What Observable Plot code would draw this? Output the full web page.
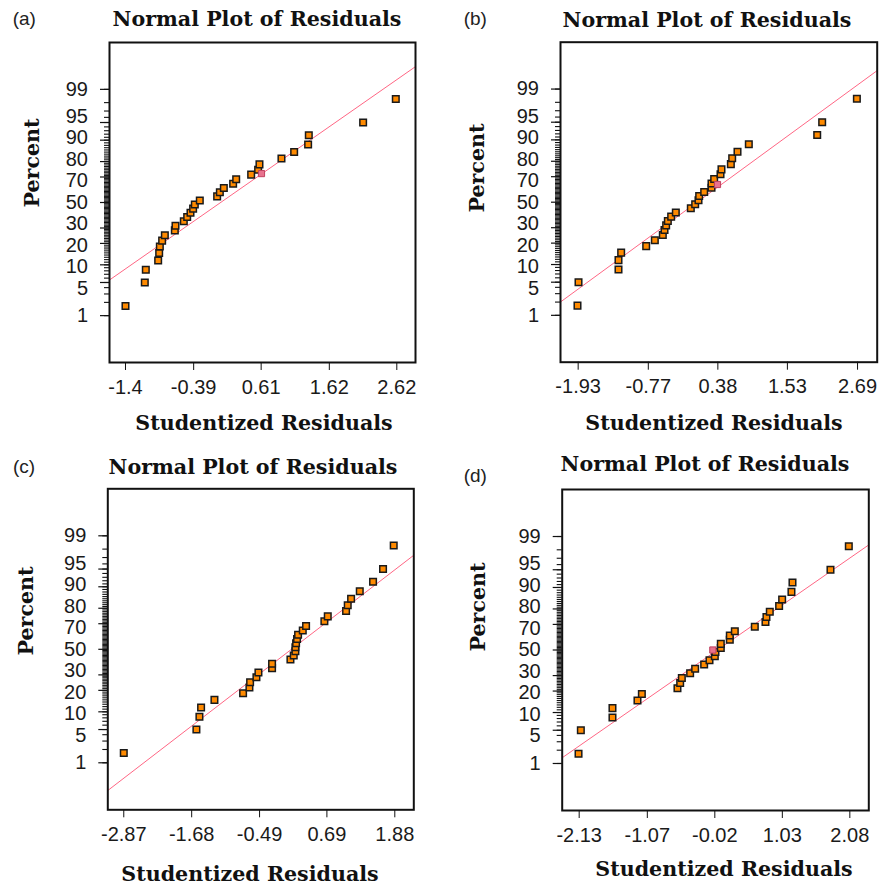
<!DOCTYPE html>
<html><head><meta charset="utf-8">
<script src="https://cdn.jsdelivr.net/npm/d3@7"></script>
<script src="https://cdn.jsdelivr.net/npm/@observablehq/plot@0.6"></script>
<style>
body{margin:0;background:#fff;}
#wrap{position:relative;width:882px;height:890px;overflow:hidden;background:#fff;}
.plot{position:absolute;}
.tag{position:absolute;font-family:"Liberation Sans",Arial,sans-serif;font-size:19px;line-height:1;color:#222;white-space:nowrap;}
.ttl{position:absolute;font-family:"DejaVu Serif",serif;font-weight:bold;font-size:20.6px;line-height:1;white-space:nowrap;transform:translateX(-50%);color:#111;}
.yl{position:absolute;font-family:"DejaVu Serif",serif;font-weight:bold;font-size:20.6px;line-height:1;white-space:nowrap;transform:translate(-50%,-50%) rotate(-90deg);color:#111;}
</style></head>
<body><div id="wrap"></div>
<script>
// ---------------- data ----------------
const panelTags = ["(a)", "(b)", "(c)", "(d)"];
const titleText = "Normal Plot of Residuals";
const xLabelText = "Studentized Residuals";
const yLabelText = "Percent";

// cumulative percent of each ranked residual
const pctRank = [1.67, 5, 8.33, 11.67, 15, 18.33, 21.67, 25, 28.33, 31.67, 35, 38.33, 41.67, 45, 48.33,
                 51.67, 55, 58.33, 61.67, 65, 68.33, 71.67, 75, 78.33, 81.67, 85, 88.33, 91.67, 95, 98.33];

const xA = [-1.40, -1.114, -1.099, -0.916, -0.901, -0.891, -0.857, -0.817, -0.669, -0.659, -0.536, -0.486, -0.437, -0.398, -0.373,
            -0.299, -0.042, -0.002, 0.057, 0.195, 0.240, 0.462, 0.565, 0.585, 0.911, 1.099, 1.306, 1.316, 2.121, 2.605];
const xB = [-1.941, -1.924, -1.263, -1.263, -1.219, -0.805, -0.662, -0.530, -0.502, -0.475, -0.447, -0.392, -0.315, -0.067, 0.005,
            0.060, 0.071, 0.154, 0.275, 0.275, 0.319, 0.424, 0.440, 0.595, 0.617, 0.705, 0.892, 2.023, 2.105, 2.679];
const xC = [-2.870, -1.597, -1.544, -1.515, -1.281, -0.779, -0.668, -0.656, -0.545, -0.510, -0.271, -0.271, 0.051, 0.109, 0.138,
            0.138, 0.150, 0.167, 0.185, 0.267, 0.325, 0.646, 0.705, 1.026, 1.055, 1.114, 1.266, 1.499, 1.674, 1.861];
const xD = [-2.140, -2.104, -1.612, -1.612, -1.223, -1.155, -0.601, -0.559, -0.533, -0.404, -0.326, -0.186, -0.103, -0.020, -0.010,
            0.073, 0.073, 0.213, 0.213, 0.291, 0.602, 0.768, 0.783, 0.835, 0.980, 1.027, 1.172, 1.188, 1.779, 2.064];

// highlighted (pink) points: [x, percent]
const extraA = [[0.615, 72.4]];
const extraB = [[0.374, 64.2]];
const extraC = [];
const extraD = [[-0.051, 50.0]];

// fitted normal line end points: [x, percent]
const lineA = [[-1.637, 5.55], [2.897, 99.74]];
const lineB = [[-2.222, 2.01], [3.015, 99.66]];
const lineC = [[-3.150, 0.19], [2.213, 97.31]];
const lineD = [[-2.394, 1.36], [2.375, 98.44]];

// x domains
const domA = [-1.637, 2.897];
const domB = [-2.222, 3.015];
const domC = [-3.150, 2.213];
const domD = [-2.394, 2.375];

// tick labels
const xTicksA = ["-1.4", "-0.39", "0.61", "1.62", "2.62"];
const xTicksB = ["-1.93", "-0.77", "0.38", "1.53", "2.69"];
const xTicksC = ["-2.87", "-1.68", "-0.49", "0.69", "1.88"];
const xTicksD = ["-2.13", "-1.07", "-0.02", "1.03", "2.08"];
const yTickLabels = [1, 5, 10, 20, 30, 50, 70, 80, 90, 95, 99];
const yMinorTicks = d3.range(1, 100);
const zDomain = [-3.29, 3.29];

// ---------------- probability (normal quantile) scale helper ----------------
function probit(pct) {
  const p = pct / 100;
  const a = [-3.969683028665376e+01, 2.209460984245205e+02, -2.759285104469687e+02, 1.383577518672690e+02, -3.066479806614716e+01, 2.506628277459239e+00];
  const b = [-5.447609879822406e+01, 1.615858368580409e+02, -1.556989798598866e+02, 6.680131188771972e+01, -1.328068155288572e+01];
  const c = [-7.784894002430293e-03, -3.223964580411365e-01, -2.400758277161838e+00, -2.549732539343734e+00, 4.374664141464968e+00, 2.938163982698783e+00];
  const d = [7.784695709041462e-03, 3.224671290700398e-01, 2.445134137142996e+00, 3.754408661907416e+00];
  const pl = 0.02425;
  if (p < pl) {
    const q = Math.sqrt(-2 * Math.log(p));
    return (((((c[0]*q+c[1])*q+c[2])*q+c[3])*q+c[4])*q+c[5]) / ((((d[0]*q+d[1])*q+d[2])*q+d[3])*q+1);
  }
  if (p > 1 - pl) {
    const q = Math.sqrt(-2 * Math.log(1 - p));
    return -(((((c[0]*q+c[1])*q+c[2])*q+c[3])*q+c[4])*q+c[5]) / ((((d[0]*q+d[1])*q+d[2])*q+d[3])*q+1);
  }
  const q = p - 0.5, r = q * q;
  return (((((a[0]*r+a[1])*r+a[2])*r+a[3])*r+a[4])*r+a[5])*q / (((((b[0]*r+b[1])*r+b[2])*r+b[3])*r+b[4])*r+1);
}

const yMajorZ = yTickLabels.map(probit);
const yMinorZ = yMinorTicks.map(probit);

// spread the y tick labels so that they do not collide (lowest label stays at its tick)
function spreadLabels(zs, gap) {
  const y = zs.slice();
  for (let it = 0; it < 800; it++) {
    for (let i = 1; i < y.length; i++) {
      const d = y[i] - y[i - 1];
      if (d < gap) {
        if (i - 1 === 0) y[i] += gap - d;
        else { y[i - 1] -= (gap - d) / 2; y[i] += (gap - d) / 2; }
      }
    }
  }
  return y;
}

// ---------------- layout ----------------
const layout = [
  {ox: 0,   oy: 0,   L: 109,   R: 415,   T: 42,    B: 362,   tag: [12.7, 9],   ttl: [257, 9.2],   yl: [31.7, 162.5], xl: [264, 412.5]},
  {ox: 441, oy: 0,   L: 560,   R: 876.7, T: 41.7,  B: 361.7, tag: [463.7, 9],  ttl: [707, 9.9],   yl: [477, 167.5],  xl: [714, 412.5]},
  {ox: 0,   oy: 445, L: 107.3, R: 413.3, T: 488.3, B: 809.3, tag: [13, 457],   ttl: [253, 457.2], yl: [25.8, 611],   xl: [250, 864]},
  {ox: 441, oy: 445, L: 561.7, R: 868.3, T: 489,   B: 810,   tag: [463.7, 466],ttl: [705, 453.9], yl: [478, 607.3],  xl: [724, 859]}
];
const xs = [xA, xB, xC, xD];
const extras = [extraA, extraB, extraC, extraD];
const lines = [lineA, lineB, lineC, lineD];
const doms = [domA, domB, domC, domD];
const xTicks = [xTicksA, xTicksB, xTicksC, xTicksD];

const wrap = document.getElementById("wrap");
function addDiv(cls, text, left, top) {
  const el = document.createElement("div");
  el.className = cls; el.textContent = text;
  el.style.left = left + "px"; el.style.top = top + "px";
  wrap.appendChild(el);
}

layout.forEach((g, k) => {
  const W = 441, H = 445;
  const pts = xs[k].map((x, i) => ({x, p: pctRank[i]}));
  const ext = extras[k].map(([x, p]) => ({x, p}));
  const ln = lines[k].map(([x, p]) => ({x, p}));
  const tv = xTicks[k].map(Number);
  const pxPerZ = (g.B - g.T) / (zDomain[1] - zDomain[0]);
  const labZ = spreadLabels(yMajorZ, 21.5 / pxPerZ);
  const yLabs = yTickLabels.map((v, i) => ({text: String(v), z: labZ[i]}));
  const chart = Plot.plot({
    width: W, height: H,
    marginLeft: g.L - g.ox, marginRight: g.ox + W - g.R,
    marginTop: g.T - g.oy, marginBottom: g.oy + H - g.B,
    style: {fontFamily: "'Liberation Sans', Arial, sans-serif", fontSize: "20px", color: "#111", background: "transparent", overflow: "visible"},
    x: {domain: doms[k], axis: null},
    y: {domain: zDomain, axis: null},
    marks: [
      Plot.axisY({ticks: yMinorZ, tickSize: 5, tickFormat: () => "", label: null, stroke: "#111", strokeWidth: 1.1}),
      Plot.axisY({ticks: yMajorZ, tickSize: 9, tickFormat: () => "", label: null, stroke: "#111", strokeWidth: 1.2}),
      Plot.text(yLabs, {y: "z", text: "text", frameAnchor: "left", textAnchor: "end", dx: -21.5, fontSize: 20, fill: "#1a1a1a"}),
      Plot.axisX({ticks: tv, tickSize: 8, tickPadding: 9, tickFormat: (d) => xTicks[k][tv.indexOf(d)], label: null, fontSize: 20, stroke: "#111", fill: "#1a1a1a"}),
      Plot.line(ln, {x: "x", y: d => probit(d.p), stroke: "#ff6684", strokeWidth: 1}),
      Plot.dot(pts, {x: "x", y: d => probit(d.p), symbol: "square", r: 3.7, fill: "#ff8a00", stroke: "#1a1a1a", strokeWidth: 1.5}),
      Plot.dot(ext, {x: "x", y: d => probit(d.p), symbol: "square", r: 3.5, fill: "#e8728e", stroke: "#c04060", strokeWidth: 1}),
      Plot.frame({stroke: "#111", strokeWidth: 2})
    ]
  });
  chart.classList.add("plot");
  chart.style.left = g.ox + "px"; chart.style.top = g.oy + "px";
  wrap.appendChild(chart);
  addDiv("tag", panelTags[k], g.tag[0], g.tag[1]);
  addDiv("ttl", titleText, g.ttl[0], g.ttl[1]);
  addDiv("ttl", xLabelText, g.xl[0], g.xl[1]);
  addDiv("yl", yLabelText, g.yl[0], g.yl[1]);
});
</script>
</body></html>
